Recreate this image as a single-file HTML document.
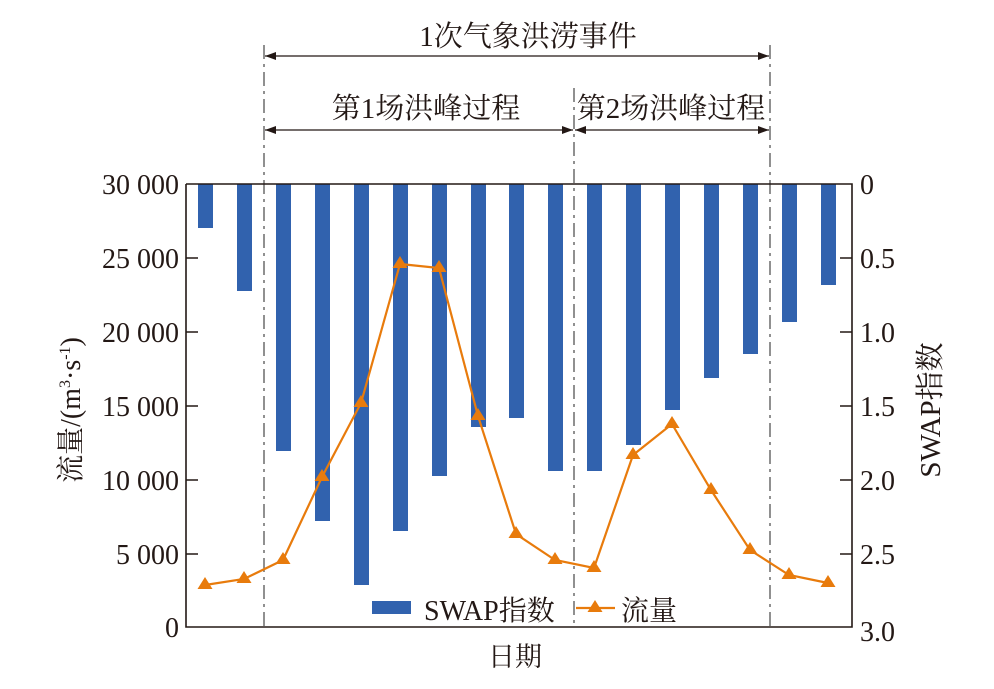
<!DOCTYPE html>
<html><head><meta charset="utf-8"><style>
html,body{margin:0;padding:0;background:#fff;}
svg text{font-family:"Liberation Serif","Noto Serif CJK SC",serif;fill:#231815;}
</style></head><body>
<svg width="994" height="684" viewBox="0 0 994 684" xmlns="http://www.w3.org/2000/svg">
<defs>
<marker id="ah" markerWidth="11" markerHeight="8" refX="11" refY="4" orient="auto-start-reverse" markerUnits="userSpaceOnUse">
<path d="M0,0 L11,4 L0,8 Z" fill="#231815"/></marker>
</defs>
<g fill="#3162ae">
<rect x="198" y="184" width="15" height="44"/>
<rect x="237" y="184" width="15" height="107"/>
<rect x="276" y="184" width="15" height="267"/>
<rect x="315" y="184" width="15" height="337"/>
<rect x="354" y="184" width="15" height="401"/>
<rect x="393" y="184" width="15" height="347"/>
<rect x="432" y="184" width="15" height="292"/>
<rect x="471" y="184" width="15" height="243"/>
<rect x="509" y="184" width="15" height="234"/>
<rect x="548" y="184" width="15" height="287"/>
<rect x="587" y="184" width="15" height="287"/>
<rect x="626" y="184" width="15" height="261"/>
<rect x="665" y="184" width="15" height="226"/>
<rect x="704" y="184" width="15" height="194"/>
<rect x="743" y="184" width="15" height="170"/>
<rect x="782" y="184" width="15" height="138"/>
<rect x="821" y="184" width="15" height="101"/>
</g>
<g stroke="#555" stroke-width="1.3" stroke-dasharray="14,5,3,5">
<line x1="264" y1="45" x2="264" y2="627"/>
<line x1="574" y1="88" x2="574" y2="627"/>
<line x1="770" y1="45" x2="770" y2="627"/>
</g>
<g stroke="#231815" stroke-width="1.3">
<line x1="265" y1="56" x2="769" y2="56" marker-start="url(#ah)" marker-end="url(#ah)"/>
<line x1="265" y1="130" x2="573" y2="130" marker-start="url(#ah)" marker-end="url(#ah)"/>
<line x1="575" y1="130" x2="769" y2="130" marker-start="url(#ah)" marker-end="url(#ah)"/>
</g>
<text x="528" y="46" font-size="29" text-anchor="middle">1次气象洪涝事件</text>
<text x="426" y="118" font-size="29" text-anchor="middle">第1场洪峰过程</text>
<text x="671" y="118" font-size="29" text-anchor="middle">第2场洪峰过程</text>
<polyline fill="none" stroke="#e87b0c" stroke-width="2.2" points="205,585 244,579 283,560 322,477 361,403 400,264 439,268 478,416 516,534 555,560 594,568 633,455 672,424 711,490 750,550 789,575 828,583"/>
<g fill="#e87b0c">
<path d="M205,577 l7.5,12 h-15z"/><path d="M244,571 l7.5,12 h-15z"/><path d="M283,552 l7.5,12 h-15z"/>
<path d="M322,469 l7.5,12 h-15z"/><path d="M361,395 l7.5,12 h-15z"/><path d="M400,256 l7.5,12 h-15z"/>
<path d="M439,260 l7.5,12 h-15z"/><path d="M478,408 l7.5,12 h-15z"/><path d="M516,526 l7.5,12 h-15z"/>
<path d="M555,552 l7.5,12 h-15z"/><path d="M594,560 l7.5,12 h-15z"/><path d="M633,447 l7.5,12 h-15z"/>
<path d="M672,416 l7.5,12 h-15z"/><path d="M711,482 l7.5,12 h-15z"/><path d="M750,542 l7.5,12 h-15z"/>
<path d="M789,567 l7.5,12 h-15z"/><path d="M828,575 l7.5,12 h-15z"/>
</g>
<g stroke="#231815" stroke-width="1.6" fill="none">
<path d="M186,184 V627 H852 V184 H186"/>
<path d="M186,258 h12 M186,332 h12 M186,406 h12 M186,480 h12 M186,554 h12"/>
<path d="M852,258 h-12 M852,332 h-12 M852,406 h-12 M852,480 h-12 M852,554 h-12"/>
</g>
<g font-size="28" text-anchor="end">
<text x="179" y="194">30 000</text><text x="179" y="268">25 000</text><text x="179" y="342">20 000</text>
<text x="179" y="416">15 000</text><text x="179" y="490">10 000</text><text x="179" y="564">5 000</text>
<text x="179" y="637">0</text>
</g>
<g font-size="28">
<text x="860" y="194">0</text><text x="860" y="268">0.5</text><text x="860" y="342">1.0</text>
<text x="860" y="416">1.5</text><text x="860" y="490">2.0</text><text x="860" y="564">2.5</text>
<text x="860" y="641">3.0</text>
</g>
<text transform="translate(80,410) rotate(-90)" font-size="28" text-anchor="middle">流量/(m<tspan font-size="16" dy="-10">3</tspan><tspan dy="10">·s</tspan><tspan font-size="16" dy="-10">-1</tspan><tspan dy="10">)</tspan></text>
<text transform="translate(940,410) rotate(-90)" font-size="29" text-anchor="middle">SWAP指数</text>
<text x="515" y="666" font-size="27" text-anchor="middle">日期</text>
<rect x="372" y="601" width="39" height="13" fill="#3162ae"/>
<text x="424" y="620" font-size="28">SWAP指数</text>
<line x1="576" y1="608" x2="615" y2="608" stroke="#e87b0c" stroke-width="2.2"/>
<path d="M595,600 l7.5,12 h-15z" fill="#e87b0c"/>
<text x="621" y="620" font-size="28">流量</text>
</svg>
</body></html>
